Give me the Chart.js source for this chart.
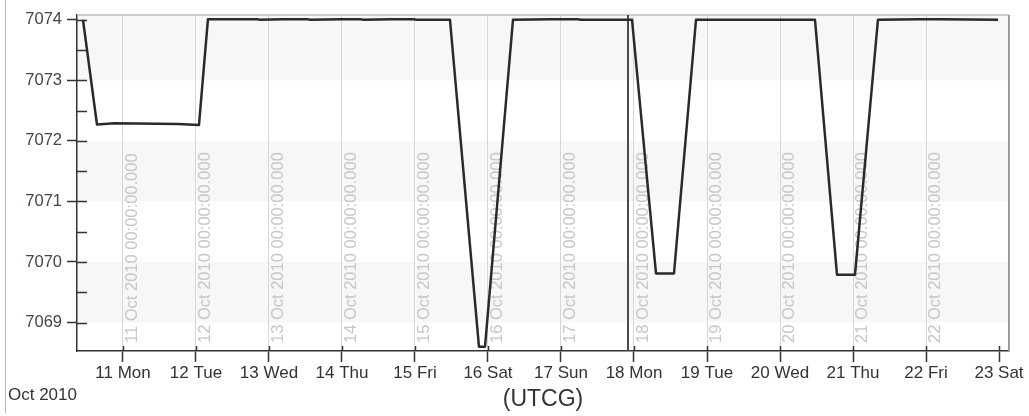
<!DOCTYPE html>
<html>
<head>
<meta charset="utf-8">
<title>Range (UTCG)</title>
<script src="https://cdn.jsdelivr.net/npm/chart.js@4.4.1/dist/chart.umd.min.js"></script>
<style>
  html, body { margin: 0; padding: 0; background: #fff; }
  .chart-wrap { position: relative; width: 1029px; height: 416px; }
  .chart-wrap::before {
    content: '';
    position: absolute;
    left: 5px;
    top: 0;
    height: 413px;
    border-left: 1px solid #bcbcbc;
  }
</style>
</head>
<body>
<div class="chart-wrap">
  <canvas id="rangeChart" width="1029" height="416"></canvas>
</div>
<script>
// Samples (UTC) and range values
const sampleTimes = [
  '2010-10-10 10:51', '2010-10-10 15:27', '2010-10-10 21:20', '2010-10-11 18:05',
  '2010-10-12 00:59', '2010-10-12 03:56', '2010-10-12 20:00', '2010-10-12 21:00',
  '2010-10-13 04:30', '2010-10-13 12:30', '2010-10-13 13:30', '2010-10-14 00:00',
  '2010-10-14 05:55', '2010-10-14 07:00', '2010-10-14 16:26', '2010-10-14 23:21',
  '2010-10-15 00:30', '2010-10-15 11:30', '2010-10-15 21:02', '2010-10-15 23:01',
  '2010-10-16 08:13', '2010-10-16 21:03', '2010-10-17 05:15', '2010-10-17 06:30',
  '2010-10-17 23:21', '2010-10-18 07:14', '2010-10-18 13:09', '2010-10-18 20:23',
  '2010-10-20 11:30', '2010-10-20 18:44', '2010-10-21 00:39', '2010-10-21 08:12',
  '2010-10-21 22:02', '2010-10-22 04:36', '2010-10-22 23:40'
];
const rangeValues = [
  7074.00, 7072.27, 7072.29, 7072.28,
  7072.26, 7074.01, 7074.01, 7074.00,
  7074.01, 7074.01, 7074.00, 7074.01,
  7074.01, 7074.00, 7074.01, 7074.01,
  7074.00, 7074.00, 7068.60, 7068.60,
  7074.00, 7074.01, 7074.01, 7074.00,
  7074.00, 7069.81, 7069.81, 7074.00,
  7074.00, 7069.79, 7069.79, 7074.00,
  7074.01, 7074.01, 7074.00
];

// Axis ticks
const tickDays = [
  '2010-10-11', '2010-10-12', '2010-10-13', '2010-10-14', '2010-10-15', '2010-10-16',
  '2010-10-17', '2010-10-18', '2010-10-19', '2010-10-20', '2010-10-21', '2010-10-22',
  '2010-10-23'
];
const tickLabels = [
  '11 Mon', '12 Tue', '13 Wed', '14 Thu', '15 Fri', '16 Sat',
  '17 Sun', '18 Mon', '19 Tue', '20 Wed', '21 Thu', '22 Fri', '23 Sat'
];
const gridLabels = [
  '11 Oct 2010 00:00:00.000', '12 Oct 2010 00:00:00.000', '13 Oct 2010 00:00:00.000',
  '14 Oct 2010 00:00:00.000', '15 Oct 2010 00:00:00.000', '16 Oct 2010 00:00:00.000',
  '17 Oct 2010 00:00:00.000', '18 Oct 2010 00:00:00.000', '19 Oct 2010 00:00:00.000',
  '20 Oct 2010 00:00:00.000', '21 Oct 2010 00:00:00.000', '22 Oct 2010 00:00:00.000'
];
const yTicks = [7069, 7070, 7071, 7072, 7073, 7074];
const yMinorTicks = [7069.5, 7070.5, 7071.5, 7072.5, 7073.5];

const xStart = '2010-10-10 08:53';
const xEnd = '2010-10-23 03:17';
const yMin = 7068.53;
const yMax = 7074.08;
const markerTime = '2010-10-17 22:02';
const monthLabel = 'Oct 2010';
const axisTitle = '(UTCG)';

const DAY_MS = 86400000;
const FONT = '"Liberation Sans", Arial, sans-serif';

// date string -> days since epoch (UTC)
function toDays(s) {
  const iso = s.length > 10 ? s.replace(' ', 'T') : s + 'T00:00';
  return new Date(iso + 'Z').getTime() / DAY_MS;
}

const points = sampleTimes.map((t, i) => ({ x: toDays(t), y: rangeValues[i] }));
const tickValues = tickDays.map(toDays);

// Shaded bands, grid labels, inner ticks, frame and marker line
const decorations = {
  id: 'decorations',
  beforeDraw(chart) {
    const { ctx, chartArea: a, scales: { y } } = chart;
    ctx.save();
    ctx.fillStyle = '#f7f7f7';
    // every other interval, starting from the top one
    for (let i = yTicks.length - 1; i >= 0; i -= 2) {
      const hi = i === yTicks.length - 1 ? yMax : yTicks[i];
      const lo = i > 0 ? yTicks[i - 1] : yMin;
      const top = y.getPixelForValue(hi);
      const bottom = y.getPixelForValue(lo);
      ctx.fillRect(a.left, top, a.right - a.left, bottom - top);
    }
    ctx.restore();
  },
  beforeDatasetsDraw(chart) {
    const { ctx, chartArea: a, scales: { x, y } } = chart;
    ctx.save();

    // rotated date labels beside each grid line
    ctx.font = '16.5px ' + FONT;
    ctx.fillStyle = '#c6c6c6';
    ctx.textAlign = 'left';
    ctx.textBaseline = 'alphabetic';
    gridLabels.forEach((label, i) => {
      const px = x.getPixelForValue(tickValues[i]);
      ctx.save();
      ctx.translate(px + 14, a.bottom - 8);
      ctx.rotate(-Math.PI / 2);
      ctx.fillText(label, 0, 0);
      ctx.restore();
    });

    // ticks pointing into the plot
    ctx.strokeStyle = '#333';
    ctx.lineWidth = 1.5;
    ctx.beginPath();
    yTicks.concat(yMinorTicks).forEach(v => {
      const py = Math.round(y.getPixelForValue(v)) + 0.5;
      ctx.moveTo(a.left, py);
      ctx.lineTo(a.left + 10, py);
    });
    tickValues.forEach(v => {
      const px = Math.round(x.getPixelForValue(v)) + 0.5;
      ctx.moveTo(px, a.bottom);
      ctx.lineTo(px, a.bottom - 5);
    });
    ctx.stroke();

    // frame on top and right
    ctx.strokeStyle = '#bdbdbd';
    ctx.lineWidth = 1.5;
    ctx.beginPath();
    ctx.moveTo(a.left, a.top);
    ctx.lineTo(a.right, a.top);
    ctx.stroke();
    ctx.strokeStyle = '#9a9a9a';
    ctx.lineWidth = 2;
    ctx.beginPath();
    ctx.moveTo(a.right, a.top);
    ctx.lineTo(a.right, a.bottom);
    ctx.stroke();

    // time marker
    const mx = x.getPixelForValue(toDays(markerTime));
    ctx.strokeStyle = '#4a4a4a';
    ctx.lineWidth = 2;
    ctx.beginPath();
    ctx.moveTo(mx, a.top);
    ctx.lineTo(mx, a.bottom);
    ctx.stroke();

    ctx.restore();
  },
  afterDraw(chart) {
    const { ctx } = chart;
    ctx.save();
    ctx.font = '17px ' + FONT;
    ctx.fillStyle = '#333';
    ctx.textAlign = 'left';
    ctx.textBaseline = 'middle';
    ctx.fillText(monthLabel, 8, 395);
    ctx.restore();
  }
};

const rangeChartCtx = document.getElementById('rangeChart');
new Chart(rangeChartCtx, {
  type: 'line',
  data: {
    datasets: [{
      data: points,
      borderColor: '#2a2a2a',
      borderWidth: 2.5,
      borderJoinStyle: 'round',
      pointRadius: 0,
      tension: 0,
      fill: false
    }]
  },
  options: {
    responsive: false,
    animation: false,
    layout: { padding: { left: 0, right: 20, top: 7, bottom: 0 } },
    plugins: {
      legend: { display: false },
      tooltip: { enabled: false }
    },
    scales: {
      x: {
        type: 'linear',
        min: toDays(xStart),
        max: toDays(xEnd),
        afterBuildTicks(scale) {
          scale.ticks = tickValues.map(v => ({ value: v }));
        },
        afterFit(scale) {
          scale.height = 65;
        },
        grid: {
          color: ctx => ctx.index === tickValues.length - 1 ? 'rgba(0,0,0,0)' : '#d6d6d6',
          lineWidth: 1,
          tickColor: '#333',
          tickLength: 11,
          tickWidth: 1.5
        },
        border: { color: '#333', width: 1.5 },
        ticks: {
          maxRotation: 0,
          autoSkip: false,
          padding: 1,
          color: '#333',
          font: { family: FONT, size: 17 },
          callback: (value, index) => tickLabels[index]
        },
        title: {
          display: true,
          text: axisTitle,
          color: '#333',
          font: { family: FONT, size: 23 },
          padding: { top: 0, bottom: 3 }
        }
      },
      y: {
        min: yMin,
        max: yMax,
        afterBuildTicks(scale) {
          scale.ticks = yTicks.map(v => ({ value: v }));
        },
        afterFit(scale) {
          scale.width = 77;
        },
        grid: {
          drawOnChartArea: false,
          tickColor: '#333',
          tickLength: 10,
          tickWidth: 1.5
        },
        border: { color: '#333', width: 1.5 },
        ticks: {
          padding: 5,
          color: '#3f4650',
          font: { family: FONT, size: 16.5 },
          callback: value => String(value)
        }
      }
    }
  },
  plugins: [decorations]
});
</script>
</body>
</html>
